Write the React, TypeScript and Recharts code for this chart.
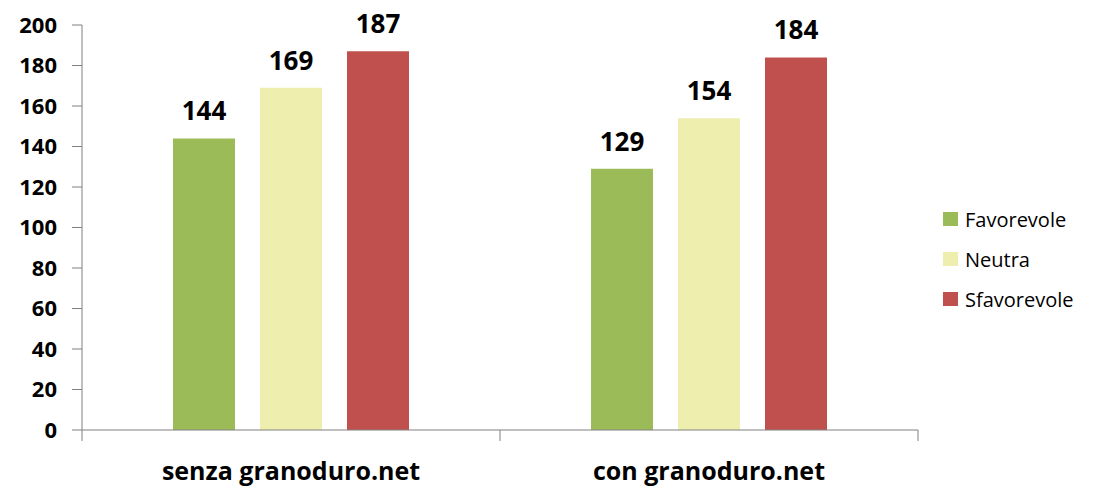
import React from "react";
import { BarChart, Bar, XAxis, YAxis, Legend, LabelList } from "recharts";

const categories = ["senza granoduro.net", "con granoduro.net"];
const favorevole = [144, 129];
const neutra = [169, 154];
const sfavorevole = [187, 184];
const yTicks = [0, 20, 40, 60, 80, 100, 120, 140, 160, 180, 200];

const seriesDefs = [
  { key: "Favorevole", values: favorevole, color: "#9BBB59" },
  { key: "Neutra", values: neutra, color: "#EEEFAF" },
  { key: "Sfavorevole", values: sfavorevole, color: "#C0504D" },
];

const data = categories.map((c, i) => {
  const row: Record<string, string | number> = { name: c };
  seriesDefs.forEach((s) => {
    row[s.key] = s.values[i];
  });
  return row;
});

const FONT = "'Open Sans', 'DejaVu Sans', sans-serif";

const CategoryTick = (props: any) => {
  const { x, y, payload, index, visibleTicksCount } = props;
  const off = payload && typeof payload.offset === "number" ? payload.offset : 209;
  const last = index === (visibleTicksCount ?? 2) - 1;
  return (
    <g>
      <line x1={x - off} x2={x - off} y1={y} y2={y + 11} stroke="#808080" strokeWidth={1} />
      {last && <line x1={x + off} x2={x + off} y1={y} y2={y + 11} stroke="#808080" strokeWidth={1} />}
      <text x={x} y={y + 50} textAnchor="middle" fontSize={25} fontWeight="bold" fill="#000" fontFamily={FONT}>
        {payload.value}
      </text>
    </g>
  );
};

const LegendContent = (props: any) => {
  const { payload } = props;
  return (
    <div style={{ fontFamily: FONT }}>
      {(payload || []).map((p: any) => (
        <div key={p.value} style={{ display: "flex", alignItems: "center", height: 40 }}>
          <div style={{ width: 15, height: 14, background: p.color, marginRight: 7 }} />
          <span style={{ fontSize: 20, color: "#000" }}>{p.value}</span>
        </div>
      ))}
    </div>
  );
};

export default function App() {
  return (
    <div style={{ position: "absolute", left: 0, top: 0, width: 1100, height: 497, background: "#fff", fontFamily: FONT }}>
      <BarChart
        width={1100}
        height={497}
        data={data}
        margin={{ top: 25, right: 25, bottom: 0, left: 0 }}
        barGap={25}
        barSize={62}
      >
        <XAxis
          dataKey="name"
          height={67}
          tickLine={false}
          tickSize={0}
          tickMargin={0}
          axisLine={{ stroke: "#808080" }}
          tick={<CategoryTick />}
          interval={0}
        />
        <YAxis
          width={82}
          domain={[0, 200]}
          ticks={yTicks}
          tickSize={10}
          tickMargin={15}
          axisLine={{ stroke: "#808080" }}
          tickLine={{ stroke: "#808080" }}
          tick={{ fontSize: 22, fontWeight: "bold", fill: "#000", fontFamily: FONT }}
          interval={0}
        />
        <Legend
          layout="vertical"
          align="right"
          verticalAlign="middle"
          content={<LegendContent />}
          width={157}
          wrapperStyle={{ left: 943, top: 199, right: "auto", width: 157 }}
        />
        {seriesDefs.map((s) => (
          <Bar key={s.key} dataKey={s.key} name={s.key} fill={s.color} isAnimationActive={false}>
            <LabelList
              dataKey={s.key}
              position="top"
              offset={18}
              style={{ fontSize: 26, fontWeight: "bold", fill: "#000", fontFamily: FONT }}
            />
          </Bar>
        ))}
      </BarChart>
    </div>
  );
}
